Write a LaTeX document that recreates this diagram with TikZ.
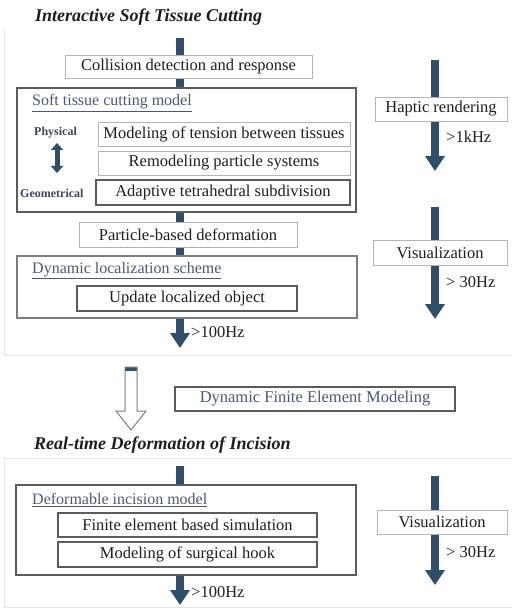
\documentclass[tikz,border=0pt]{standalone}
\usepackage{fontspec}
\setmainfont{Liberation Serif}
\usetikzlibrary{arrows.meta,backgrounds}
\definecolor{arrowblue}{HTML}{2E4E6C}
\definecolor{txt}{HTML}{1E1E1E}
\definecolor{ttl}{HTML}{4A5878}
\definecolor{lightedge}{HTML}{B4B4B4}
\definecolor{darkedge}{HTML}{5C5C5C}
\definecolor{faint}{HTML}{E4E4E4}
\tikzset{
  body/.style={font=\fontsize{16.5}{18}\selectfont, text=txt},
  lbox/.style={body, draw=lightedge, line width=0.8pt, fill=white, inner sep=0pt},
  dbox/.style={body, draw=darkedge, line width=1.1pt, fill=white, inner sep=0pt},
  bigbox/.style={draw=darkedge, line width=1.4pt, fill=white, inner sep=0pt},
  boxtitle/.style={font=\fontsize{16}{18}\selectfont, text=ttl, anchor=west, inner sep=0pt},
  maintitle/.style={font=\fontsize{18}{20}\selectfont\bfseries\itshape, text=txt, anchor=west, inner sep=0pt},
  sidelabel/.style={font=\fontsize{12}{14}\selectfont\bfseries, text=ttl!80!black, anchor=west, inner sep=0pt},
  rate/.style={body, anchor=west, inner sep=0pt},
  shaft/.style={draw=arrowblue, line width=8pt, -{Triangle[width=19pt,length=15pt]}},
  faintline/.style={draw=faint, line width=1pt}
}
\begin{document}
\begin{tikzpicture}[x=1pt,y=-1pt]
\useasboundingbox (0,0) rectangle (512,612);
\fill[white] (0,0) rectangle (512,612);

% faint frame lines
\coordinate (f1) at (4,30);
\coordinate (f2) at (4,355);
\coordinate (f3) at (512,355);
\coordinate (f4) at (4,458);
\coordinate (f5) at (512,458);
\coordinate (f6) at (4,607);
\coordinate (f7) at (512,607);
\draw[faintline] (f1) -- (f2) -- (f3);
\draw[faintline] (f5) -- (f4) -- (f6) -- (f7);

% ---------- top section ----------
\node[maintitle] (t1) at (35,17) {Interactive Soft Tissue Cutting};

\coordinate (mtop) at (180,38);
\coordinate (mend) at (180,348);
\draw[shaft] (mtop) -- (mend);

\node[lbox, minimum width=247pt, minimum height=23pt] (collision) at (188.5,66.5) {Collision detection and response};

\node[bigbox, minimum width=339pt, minimum height=124pt] (stbox) at (186.5,150) {};
\node[boxtitle] (sttitle) at (32,103) {\underline{Soft tissue cutting model}};
\node[lbox, minimum width=252pt, minimum height=24pt] (tension) at (224,134) {Modeling of tension between tissues};
\node[lbox, minimum width=252pt, minimum height=24pt] (remodel) at (224,163) {Remodeling particle systems};
\node[dbox, minimum width=254pt, minimum height=25pt] (adaptive) at (223,192.5) {Adaptive tetrahedral subdivision};
\node[sidelabel] (physical) at (34,133) {Physical};
\node[sidelabel] (geometrical) at (20,193) {Geometrical};
\coordinate (dtop) at (57,143);
\coordinate (dbot) at (57,173);
\draw[draw=arrowblue, line width=5pt, {Triangle[width=12pt,length=7pt]}-{Triangle[width=12pt,length=7pt]}] (dtop) -- (dbot);

\node[lbox, minimum width=218pt, minimum height=25pt] (particle) at (188,234.5) {Particle-based deformation};

\node[bigbox, draw=darkedge!80, minimum width=340pt, minimum height=62pt] (dynloc) at (187,287) {};
\node[boxtitle] (dltitle) at (32,271) {\underline{Dynamic localization scheme}};
\node[dbox, minimum width=220pt, minimum height=25pt] (update) at (187,298.5) {Update localized object};
\node[rate] (r100a) at (191,332) {>100Hz};

% right column top
\coordinate (ra1) at (435,60);
\coordinate (rb1) at (435,171);
\draw[shaft] (ra1) -- (rb1);
\node[lbox, minimum width=132pt, minimum height=24pt] (haptic) at (441,109) {Haptic rendering};
\node[rate] (r1k) at (446,137) {>1kHz};

\coordinate (ra2) at (435,207);
\coordinate (rb2) at (435,319);
\draw[shaft] (ra2) -- (rb2);
\node[lbox, minimum width=134pt, minimum height=25pt] (vis1) at (440,252.5) {Visualization};
\node[rate] (r30a) at (446,282) {> 30Hz};

% ---------- transition ----------
\fill[arrowblue] (125,367) rectangle (137,371);
\draw[darkedge!80, line width=1pt, line join=miter]
  (125,367) -- (125,411) -- (116,411) -- (131,430) -- (146,411) -- (137,411) -- (137,367) -- cycle;
\node[dbox, text=ttl, minimum width=280pt, minimum height=24pt] (dfem) at (315,399) {Dynamic Finite Element Modeling};

% ---------- bottom section ----------
\node[maintitle] (t2) at (34,445) {Real-time Deformation of Incision};

\coordinate (btop) at (180,466);
\coordinate (bend) at (180,605);
\draw[shaft] (btop) -- (bend);

\node[bigbox, minimum width=340pt, minimum height=90pt] (defbox) at (186,530) {};
\node[boxtitle] (dftitle) at (32,500) {\underline{Deformable incision model}};
\node[dbox, minimum width=259pt, minimum height=24pt] (fe) at (187.5,525) {Finite element based simulation};
\node[dbox, minimum width=259pt, minimum height=25pt] (hook) at (187.5,554.5) {Modeling of surgical hook};
\node[rate] (r100b) at (191,592) {>100Hz};

\coordinate (ra3) at (435,476);
\coordinate (rb3) at (435,585);
\draw[shaft] (ra3) -- (rb3);
\node[lbox, minimum width=130pt, minimum height=24pt] (vis2) at (442,522) {Visualization};
\node[rate] (r30b) at (446,552) {> 30Hz};
\end{tikzpicture}
\end{document}
